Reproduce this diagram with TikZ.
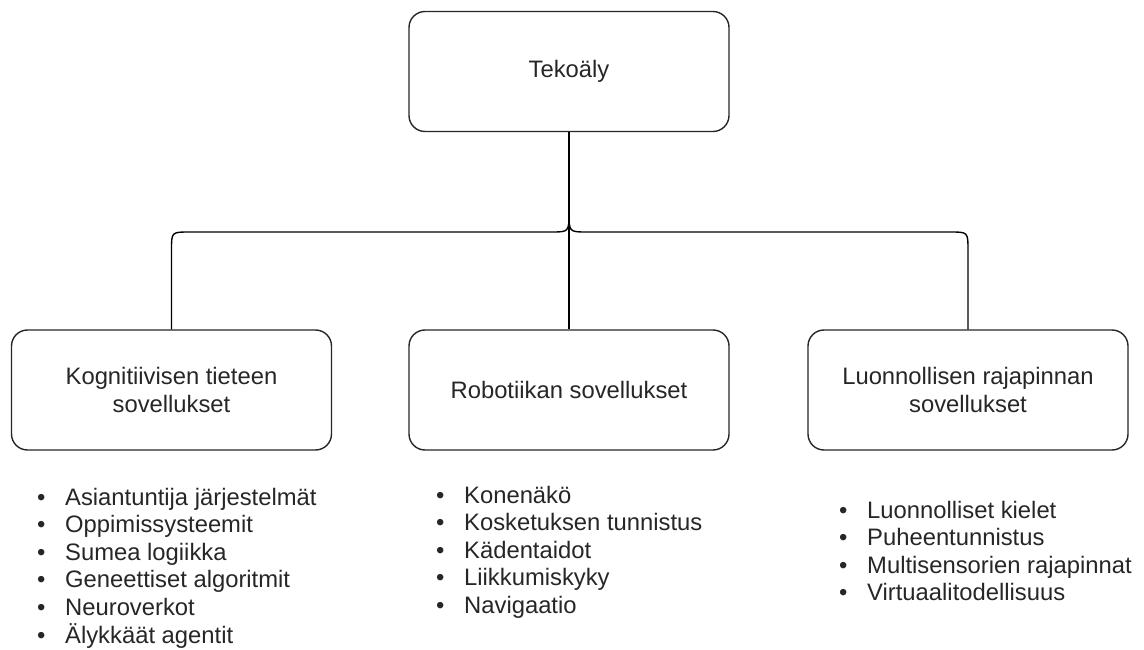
\documentclass[tikz,border=0pt]{standalone}
\usepackage{fontspec}
\setmainfont{Liberation Sans}
\begin{document}
\begin{tikzpicture}[x=1pt,y=-1pt,
  box/.style={draw=black!85,line width=1.4pt,rounded corners=16pt,minimum width=320pt,minimum height=120pt,align=center,font=\fontsize{23.8}{28}\selectfont,text=black!85,inner sep=0pt},
  listtext/.style={align=left,anchor=base west,inner sep=0pt,font=\fontsize{23.8}{27.6}\selectfont,text=black!85},
  conn/.style={draw=black,line width=1.4pt}]
\useasboundingbox (0,0) rectangle (1144,650);
\newcommand{\blt}{\makebox[28pt][l]{•}}
\node[box] (top) at (569,71.5) {Tekoäly};
\node[box] (kog) at (171.5,390) {Kognitiivisen tieteen\\sovellukset};
\node[box] (rob) at (569,390) {Robotiikan sovellukset};
\node[box] (luo) at (968,390) {Luonnollisen rajapinnan\\sovellukset};
\coordinate (tip) at (569,212);
\draw[conn] (top.south) -- (rob.north);
\draw[conn] (kog.north) -- (kog.north |- 0,250) .. controls (kog.north |- 0,232) .. ([xshift=18pt]kog.north |- 0,232) -- (551,232) .. controls (569,232) .. (tip);
\draw[conn] (luo.north) -- (luo.north |- 0,250) .. controls (luo.north |- 0,232) .. ([xshift=-18pt]luo.north |- 0,232) -- (587,232) .. controls (569,232) .. (tip);
\node[listtext] (listK) at (37,643) {\blt Asiantuntija järjestelmät\\\blt Oppimissysteemit\\\blt Sumea logiikka\\\blt Geneettiset algoritmit\\\blt Neuroverkot\\\blt Älykkäät agentit};
\node[listtext] (listR) at (436,613.4) {\blt Konenäkö\\\blt Kosketuksen tunnistus\\\blt Kädentaidot\\\blt Liikkumiskyky\\\blt Navigaatio};
\node[listtext] (listL) at (839,600.8) {\blt Luonnolliset kielet\\\blt Puheentunnistus\\\blt Multisensorien rajapinnat\\\blt Virtuaalitodellisuus};
\end{tikzpicture}
\end{document}
